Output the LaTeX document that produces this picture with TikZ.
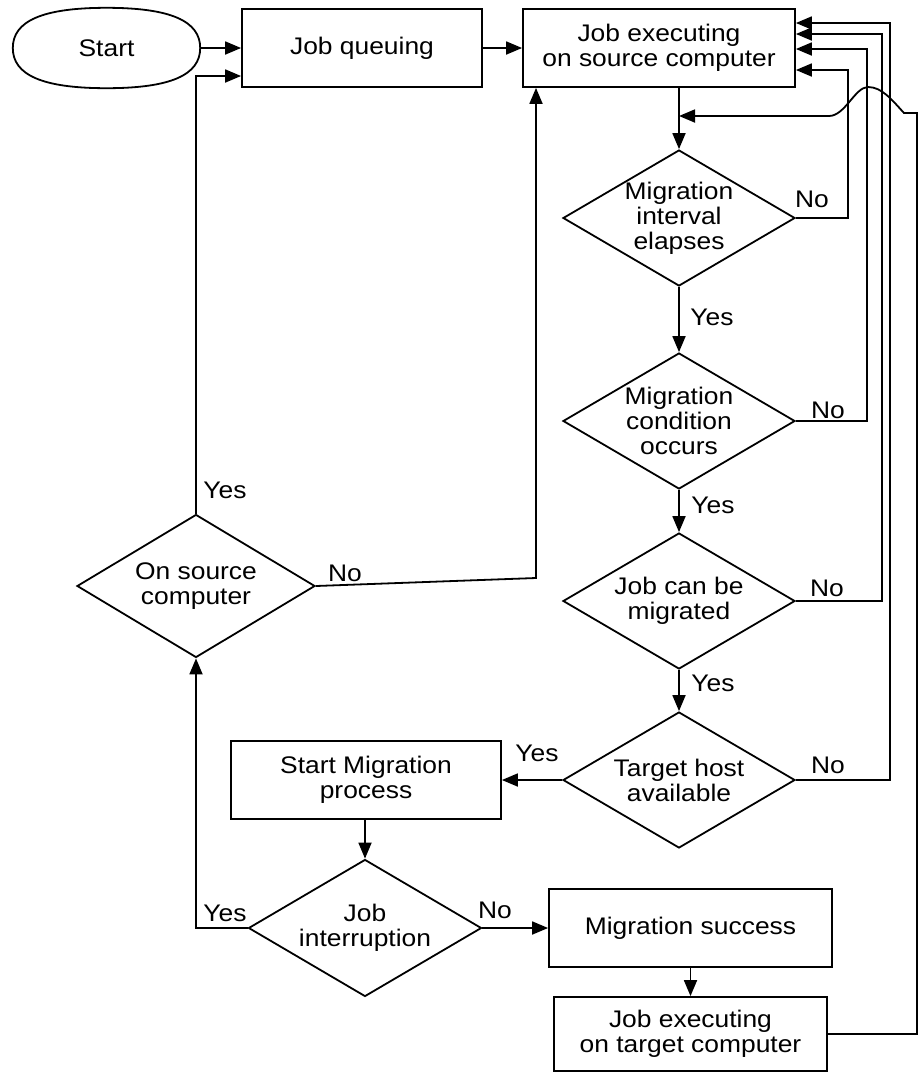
\documentclass[tikz,border=0pt]{standalone}
\usepackage{fontspec}
\setmainfont{Liberation Sans}[FakeStretch=1.1]
\usetikzlibrary{shapes.geometric,arrows.meta,calc}
\tikzset{
  every node/.style={font=\fontsize{24pt}{25pt}\selectfont},
  box/.style={draw, line width=1.8pt, inner sep=0pt, align=center},
  term/.style={rectangle, inner sep=0pt},
  dec/.style={draw, diamond, line width=1.8pt, inner sep=0pt,
              minimum width=232pt, minimum height=136pt},
  txt/.style={align=center, inner sep=0pt},
  lab/.style={inner sep=0pt},
  ln/.style={line width=1.8pt},
  arr/.style={line width=1.8pt, -{Triangle[length=16pt,width=13pt]}},
}
\begin{document}
\begin{tikzpicture}[x=1pt,y=-1pt]
\useasboundingbox (0,0) rectangle (919,1072);

% terminal: a rounded oval drawn round its node
\node[term, minimum width=187pt, minimum height=80pt] (start) at (106.5,48) {Start};
\draw[ln] (start.west) .. controls +(0,-27) and +(-64,0) .. (start.north)
  .. controls +(64,0) and +(0,-27) .. (start.east)
  .. controls +(0,27) and +(64,0) .. (start.south)
  .. controls +(-64,0) and +(0,27) .. cycle;

% process nodes
\node[box, minimum width=240pt, minimum height=78pt] (jq) at (362,48) {Job queuing};
\node[box, minimum width=272pt, minimum height=78pt] (exec) at (659,48) {Job executing\\on source computer};

% decisions of the right column
\node[dec] (int) at (679,218) {};
\node[txt] (int-t) at (int) {Migration\\interval\\elapses};
\node[dec] (cond) at (679,421) {};
\node[txt] (cond-t) at (cond) {Migration\\condition\\occurs};
\node[dec] (can) at (679,601) {};
\node[txt] (can-t) at (can) {Job can be\\migrated};
\node[dec] (tgt) at (679,780) {};
\node[txt] (tgt-t) at (tgt) {Target host\\available};

% left column
\node[dec, minimum width=238pt, minimum height=143pt] (src) at (196,586) {};
\node[txt] (src-t) at (src) {On source\\computer};
\node[box, minimum width=270pt, minimum height=78pt] (smp) at (366,780) {Start Migration\\process};
\node[dec, minimum width=233pt, minimum height=137pt] (intr) at (365,928) {};
\node[txt] (intr-t) at (intr) {Job\\interruption};

% bottom right
\node[box, minimum width=283pt, minimum height=78pt] (succ) at (690.5,928) {Migration success};
\node[box, minimum width=273pt, minimum height=74pt] (tgtexe) at (690.5,1034) {Job executing\\on target computer};

% return points on the right of the source box
\coordinate (r1) at (848,70);
\coordinate (r2) at (867,49);
\coordinate (r3) at (882,34);
\coordinate (r4) at (890,23);
\coordinate (s1) at (536,578);
\coordinate (j) at (679,116);
\coordinate (e1) at (917,1034);
\coordinate (e2) at (917,113);

% main flow
\draw[arr] (start.east) -- (jq.west);
\draw[arr] (jq.east) -- (exec.west);
\draw[arr] (int.north |- exec.south) -- (int.north);
\draw[arr] (int.south) -- (cond.north);
\draw[arr] (cond.south) -- (can.north);
\draw[arr] (can.south) -- (tgt.north);
\draw[arr] (tgt.west) -- (smp.east);
\draw[arr] (intr.north |- smp.south) -- (intr.north);
\draw[arr] (intr.east) -- (succ.west);
\draw[arr] (succ.south) -- (tgtexe.north);

% "No" loops back to the source computer
\draw[arr] (int.east) -| (r1) -- (r1 -| exec.east);
\draw[arr] (cond.east) -| (r2) -- (r2 -| exec.east);
\draw[arr] (can.east) -| (r3) -- (r3 -| exec.east);
\draw[arr] (tgt.east) -| (r4) -- (r4 -| exec.east);

% left loop
\draw[arr] (intr.west) -| (src.south);
\draw[arr] (src.north) |- ($(jq.west)+(0,28)$);
\draw[arr] (src.east) -- (s1) -- (s1 |- exec.south);

% return from the target computer, hopping over the loop lines
\draw[arr] (tgtexe.east) -- (e1) -- (e2) -- (904,113)
  .. controls (892,100) and (882,87) .. (868,87)
  .. controls (855,87) and (845,116) .. (829,116) -- (j);

% branch labels
\node[lab] (y1) at (712,317) {Yes};
\node[lab] (y2) at (713,505) {Yes};
\node[lab] (y3) at (713,683) {Yes};
\node[lab] (y4) at (537,753) {Yes};
\node[lab] (y5) at (225,490) {Yes};
\node[lab] (y6) at (225,913) {Yes};
\node[lab] (n1) at (812,199) {No};
\node[lab] (n2) at (828,410) {No};
\node[lab] (n3) at (827,588) {No};
\node[lab] (n4) at (828,765) {No};
\node[lab] (n5) at (345,573) {No};
\node[lab] (n6) at (495,910) {No};
\end{tikzpicture}
\end{document}
